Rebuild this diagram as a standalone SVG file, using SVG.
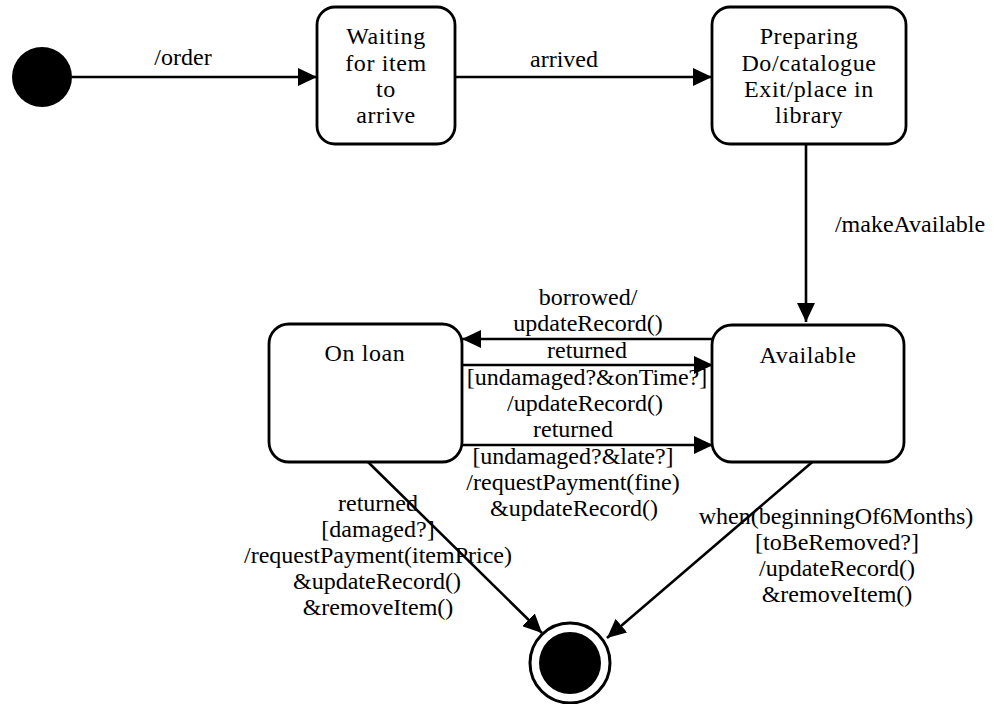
<svg xmlns="http://www.w3.org/2000/svg" width="994" height="704" viewBox="0 0 994 704">
<style>
.st{fill:#fff;stroke:#000;stroke-width:2.8}
.t{font-family:'Liberation Serif',serif;font-size:24px;fill:#000;text-anchor:middle}
.n{letter-spacing:0.6px}
.c{fill:none;stroke:#000;stroke-width:2.6}
</style>
<defs>
<marker id="ah" markerUnits="userSpaceOnUse" markerWidth="20" markerHeight="18" refX="19" refY="9" orient="auto">
<path d="M0,0 L19,9 L0,18 z" fill="#000"/>
</marker>
</defs>
<rect width="994" height="704" fill="#fff"/>
<g id="connectors">
<line class="c" x1="72" y1="77" x2="317" y2="77" marker-end="url(#ah)"/>
<line class="c" x1="455" y1="77" x2="712" y2="77" marker-end="url(#ah)"/>
<line class="c" x1="806" y1="144" x2="806" y2="322" marker-end="url(#ah)"/>
<line class="c" x1="712" y1="339" x2="462" y2="339" marker-end="url(#ah)"/>
<line class="c" x1="462" y1="365" x2="713" y2="365" marker-end="url(#ah)"/>
<line class="c" x1="456" y1="445" x2="713" y2="445" marker-end="url(#ah)"/>
<line class="c" x1="368" y1="462" x2="542" y2="633" marker-end="url(#ah)"/>
<line class="c" x1="817" y1="458" x2="607" y2="638" marker-end="url(#ah)"/>
<text class="t" x="183" y="65">/order</text>
<text class="t" x="564" y="67">arrived</text>
<text class="t" x="910" y="232">/makeAvailable</text>
<text class="t" x="588" y="305">borrowed/</text>
<text class="t" x="588" y="331">updateRecord()</text>
<text class="t" x="587" y="358">returned</text>
<text class="t" x="587" y="385">[undamaged?&amp;onTime?]</text>
<text class="t" x="585" y="411">/updateRecord()</text>
<text class="t" x="573" y="437">returned</text>
<text class="t" x="573" y="464">[undamaged?&amp;late?]</text>
<text class="t" x="573" y="490">/requestPayment(fine)</text>
<text class="t" x="574" y="516">&amp;updateRecord()</text>
<text class="t" x="378" y="511">returned</text>
<text class="t" x="378" y="537">[damaged?]</text>
<text class="t" x="378" y="563">/requestPayment(itemPrice)</text>
<text class="t" x="377" y="589">&amp;updateRecord()</text>
<text class="t" x="378" y="615">&amp;removeItem()</text>
<text class="t" x="836" y="524">when(beginningOf6Months)</text>
<text class="t" x="837" y="550">[toBeRemoved?]</text>
<text class="t" x="837" y="576">/updateRecord()</text>
<text class="t" x="837" y="602">&amp;removeItem()</text>
</g>
<g id="initial">
<circle cx="42" cy="77" r="30" fill="#000"/>
</g>
<g id="waiting">
<rect class="st" x="317" y="7" width="138" height="137" rx="18"/>
<text class="t n" x="386" y="44">Waiting</text>
<text class="t n" x="386" y="71">for item</text>
<text class="t n" x="386" y="97">to</text>
<text class="t n" x="386" y="123">arrive</text>
</g>
<g id="preparing">
<rect class="st" x="712" y="7" width="194" height="137" rx="18"/>
<text class="t n" x="809" y="44">Preparing</text>
<text class="t n" x="809" y="71">Do/catalogue</text>
<text class="t n" x="809" y="97">Exit/place in</text>
<text class="t n" x="809" y="123">library</text>
</g>
<g id="onloan">
<rect class="st" x="269" y="324" width="193" height="138" rx="20"/>
<text class="t n" x="365" y="361">On loan</text>
</g>
<g id="available">
<rect class="st" x="712" y="325" width="192" height="137" rx="20"/>
<text class="t n" x="808" y="363">Available</text>
</g>
<g id="final">
<circle cx="570" cy="663" r="40" fill="#fff" stroke="#000" stroke-width="3"/>
<circle cx="570" cy="663" r="31" fill="#000"/>
</g>
</svg>
